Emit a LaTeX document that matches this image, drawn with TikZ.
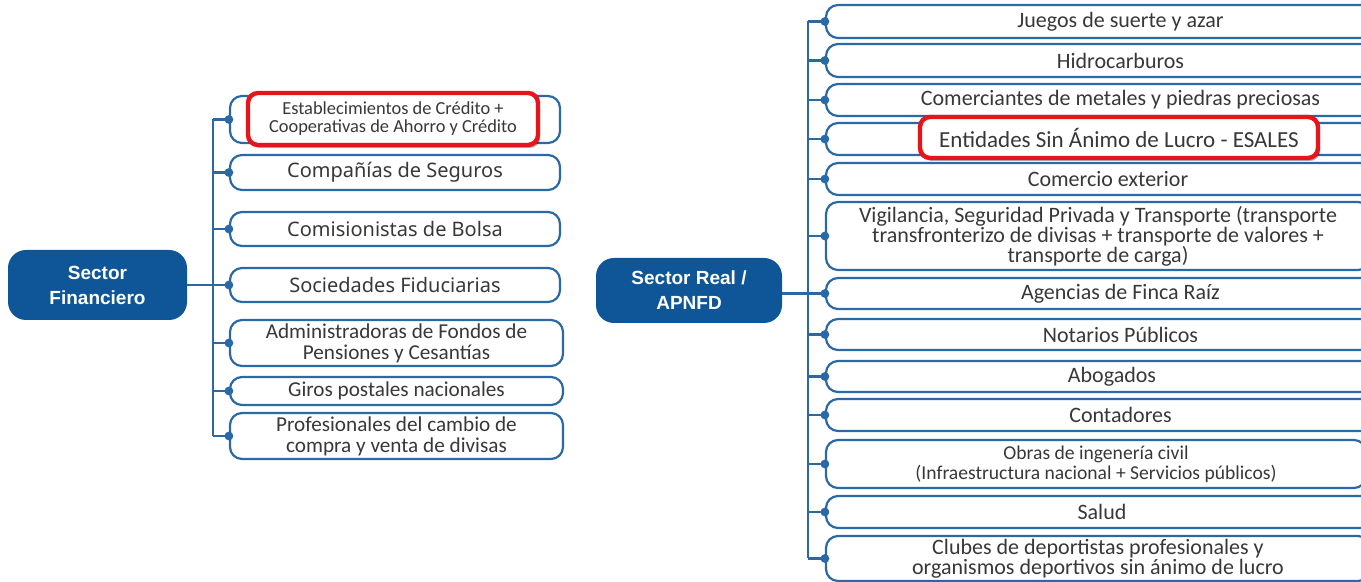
\documentclass[tikz,border=0pt]{standalone}
\usepackage{fontspec}
\setmainfont{Carlito}
\newfontfamily\widefont{Noto Sans}
\newfontfamily\sectorfont{Liberation Sans}
\usetikzlibrary{shadows}
\definecolor{sectorblue}{HTML}{0F5699}
\definecolor{edgeblue}{HTML}{2B68A6}
\definecolor{labelgray}{HTML}{383838}
\definecolor{markred}{HTML}{E8141B}
\tikzset{
  sector/.style={fill=sectorblue, rounded corners=9pt, text=white, align=center, inner sep=0pt,
    font=\sectorfont\bfseries\fontsize{9.5}{12.5}\selectfont},
  item/.style={draw=edgeblue, line width=1.1pt, rounded corners=6pt, fill=white, text=labelgray,
    align=center, inner sep=0pt, font=\fontsize{11}{10}\selectfont},
  leftitem/.style={item, font=\fontsize{10.6}{10.5}\selectfont},
  wideitem/.style={item, font=\widefont\fontsize{10}{11}\selectfont},
  redframe/.style={draw=markred, line width=2.2pt, rounded corners=5pt, fill=white, text=labelgray,
    align=center, inner sep=0pt,
    drop shadow={shadow xshift=1pt, shadow yshift=-1.5pt, opacity=0.3, fill=black}},
  conn/.style={draw=edgeblue, line width=1.1pt},
}
\begin{document}
\begin{tikzpicture}[x=0.5pt,y=-0.5pt]
\useasboundingbox (0,0) rectangle (1361,582);
% sector financiero
\node[sector, minimum width=89.5pt, minimum height=35pt] (fin) at (97.5,285) {Sector\\Financiero};
\node[leftitem, minimum width=165pt, minimum height=23.5pt] (f1) at (395,119.5) {};
\node[wideitem, minimum width=165pt, minimum height=17.5pt] (f2) at (395,172.5) {Compañías de Seguros};
\node[wideitem, minimum width=165pt, minimum height=17pt] (f3) at (395,229) {Comisionistas de Bolsa};
\node[wideitem, minimum width=165pt, minimum height=17pt] (f4) at (395,285) {Sociedades Fiduciarias};
\node[leftitem, minimum width=166.5pt, minimum height=23pt] (f5) at (396.5,343) {Administradoras de Fondos de\\Pensiones y Cesantías};
\node[leftitem, minimum width=166.5pt, minimum height=14pt] (f6) at (396.5,391) {Giros postales nacionales};
\node[leftitem, minimum width=166.5pt, minimum height=23pt] (f7) at (396.5,436) {Profesionales del cambio de\\compra y venta de divisas};
\node[redframe, minimum width=145pt, minimum height=26pt, font=\fontsize{9.2}{9}\selectfont] (hl1) at (393,119)
  {Establecimientos de Crédito +\\Cooperativas de Ahorro y Crédito};
\coordinate (tl) at (213,285);
\draw[conn] (f1.west -| tl) -- (f7.west -| tl);
\draw[conn] (fin.east) -- (f4.west);
\foreach \b in {f1,f2,f3,f4,f5,f6,f7} {
  \draw[conn] (\b.west -| tl) -- (\b.west);
  \fill[edgeblue] (\b.west) circle (2.2pt);
}
% sector real
\node[sector, minimum width=93pt, minimum height=32.5pt] (rea) at (689,290.5) {Sector Real /\\APNFD};
\node[item, minimum width=294.5pt, minimum height=16.5pt] (r1) at (1120.5,21.5) {Juegos de suerte y azar};
\node[item, minimum width=294.5pt, minimum height=16.5pt] (r2) at (1120.5,60.5) {Hidrocarburos};
\node[item, minimum width=294.5pt, minimum height=16pt] (r3) at (1120.5,100) {Comerciantes de metales y piedras preciosas};
\node[item, minimum width=294.5pt, minimum height=16pt] (r4) at (1120.5,139) {};
\node[item, minimum width=282pt, minimum height=16pt] (r5) at (1108,179) {Comercio exterior};
\node[item, minimum width=272pt, minimum height=34pt] (r6) at (1098,236)
  {Vigilancia, Seguridad Privada y Transporte (transporte\\transfronterizo de divisas + transporte de valores +\\transporte de carga)};
\node[item, minimum width=294.5pt, minimum height=15.5pt] (r7) at (1120.5,293.5) {Agencias de Finca Raíz};
\node[item, minimum width=294.5pt, minimum height=15.5pt] (r8) at (1120.5,334.5) {Notarios Públicos};
\node[item, minimum width=286pt, minimum height=15.5pt] (r9) at (1112,376.5) {Abogados};
\node[item, minimum width=294.5pt, minimum height=16pt] (r10) at (1120.5,415) {Contadores};
\node[item, minimum width=270pt, minimum height=24pt, font=\fontsize{9.8}{10}\selectfont] (r11) at (1096,464)
  {Obras de ingenería civil\\(Infraestructura nacional + Servicios públicos)};
\node[item, minimum width=276pt, minimum height=16pt] (r12) at (1102,512) {Salud};
\node[item, minimum width=272pt, minimum height=22.5pt] (r13) at (1098,558.5)
  {Clubes de deportistas profesionales y\\organismos deportivos sin ánimo de lucro};
\node[redframe, minimum width=199pt, minimum height=20.5pt, font=\fontsize{11.5}{12}\selectfont] (hl2) at (1119,137.5)
  {Entidades Sin Ánimo de Lucro - ESALES};
\coordinate (tr) at (808,293.5);
\draw[conn] (r1.west -| tr) -- (r13.west -| tr);
\draw[conn] (rea.east |- r7.west) -- (r7.west);
\foreach \b in {r1,r2,r3,r4,r5,r6,r7,r8,r9,r10,r11,r12,r13} {
  \draw[conn] (\b.west -| tr) -- (\b.west);
  \fill[edgeblue] (\b.west) circle (2.2pt);
}
\end{tikzpicture}
\end{document}
